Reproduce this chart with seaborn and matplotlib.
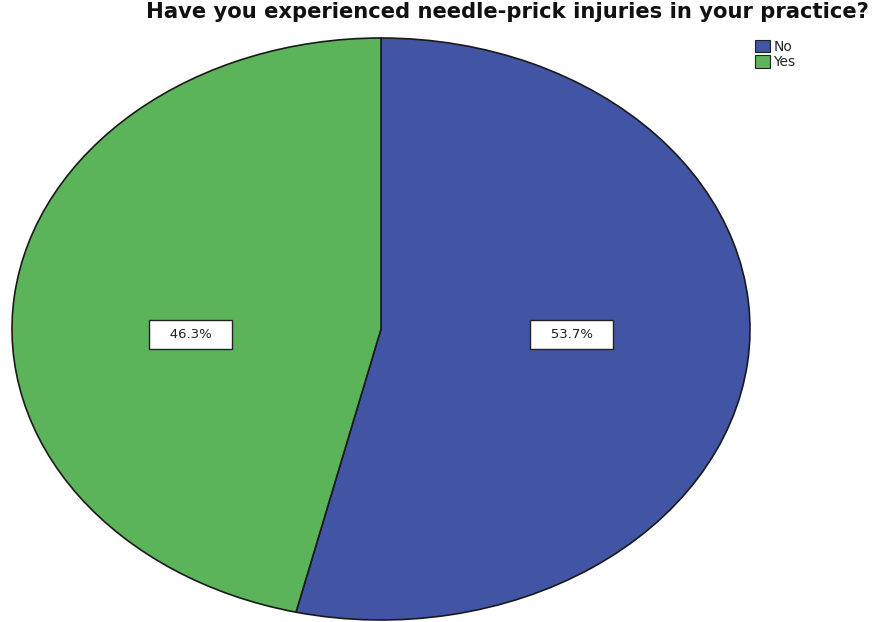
import matplotlib
matplotlib.use("Agg")
import matplotlib.pyplot as plt
import seaborn as sns

# Survey responses
categories = ["No", "Yes"]
shares = [53.7, 46.3]
colors = ["#4254A4", "#5BB35A"]

sns.set_theme(style="white")
plt.rcParams["font.family"] = ["Liberation Sans", "DejaVu Sans"]

fig = plt.figure(figsize=(8.74, 6.22), dpi=100)
ax = fig.add_axes([12 / 874, 2 / 622, 738 / 874, 582 / 622])

wedges, texts, autotexts = ax.pie(
    shares,
    labels=None,
    colors=colors,
    startangle=90,
    counterclock=False,
    autopct="%.1f%%",
    pctdistance=0.52,
    wedgeprops=dict(edgecolor="#1a1a1a", linewidth=1.2),
    textprops=dict(fontsize=9.5, color="#222222", family=["DejaVu Sans"]),
)
for t in autotexts:
    t.set_bbox(dict(boxstyle="square,pad=0.6", facecolor="white",
                    edgecolor="#222222", linewidth=1.0))
    t.set_text("   " + t.get_text() + "   ")
    x, y = t.get_position()
    t.set_position((x, -0.02))

ax.set_aspect("auto")
ax.set_xlim(-1.0, 1.0)
ax.set_ylim(-1.0, 1.0)
ax.axis("off")

fig.text(869 / 874, 1 - 12 / 622, "Have you experienced needle-prick injuries in your practice?",
         ha="right", va="center", fontsize=15.2, fontweight="bold", color="#111111",
         family=["DejaVu Sans"])

handles = [plt.Rectangle((0, 0), 1, 1, facecolor=c, edgecolor="#222222", linewidth=0.8)
           for c in colors]
fig.legend(handles, categories, loc="upper left", bbox_to_anchor=(745 / 874, 1 - 30 / 622),
           frameon=False, handlelength=1.1, handleheight=1.0,
           handletextpad=0.25, labelspacing=0.1, borderpad=0.2,
           prop=dict(family=["DejaVu Sans"], size=10))

fig.savefig("out.png", dpi=100)
